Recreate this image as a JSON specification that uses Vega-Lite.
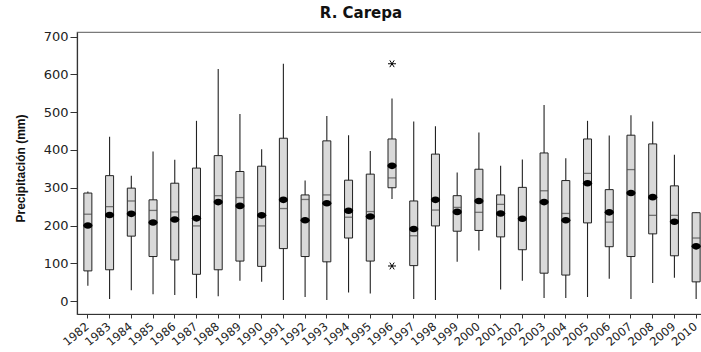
{
  "$schema": "https://vega.github.io/schema/vega-lite/v6.json",
  "autosize": {"type": "none"},
  "padding": {"left": 77, "top": 32, "right": 0, "bottom": 38},
  "width": 630,
  "height": 282,
  "background": "white",
  "title": {
    "text": "R. Carepa",
    "font": "DejaVu Sans",
    "fontSize": 15,
    "fontWeight": "bold",
    "color": "#111",
    "anchor": "middle",
    "dx": -31,
    "offset": 10
  },
  "config": {
    "view": {"stroke": "#7a7a7a", "strokeWidth": 1.2},
    "axis": {"grid": false, "labelColor": "#222", "titleColor": "#111", "domainColor": "#333", "tickColor": "#333"}
  },
  "datasets": {
    "stats": [
      {"year": "1982", "min": 41, "q1": 80, "median": 230, "mean": 200, "q3": 286, "max": 290},
      {"year": "1983", "min": 6, "q1": 83, "median": 250, "mean": 228, "q3": 332, "max": 435},
      {"year": "1984", "min": 29, "q1": 172, "median": 265, "mean": 231, "q3": 299, "max": 332},
      {"year": "1985", "min": 18, "q1": 118, "median": 240, "mean": 208, "q3": 268, "max": 396},
      {"year": "1986", "min": 16, "q1": 109, "median": 236, "mean": 216, "q3": 312, "max": 374},
      {"year": "1987", "min": 8, "q1": 71, "median": 199, "mean": 219, "q3": 352, "max": 477},
      {"year": "1988", "min": 13, "q1": 83, "median": 279, "mean": 262, "q3": 385, "max": 614},
      {"year": "1989", "min": 54, "q1": 106, "median": 274, "mean": 252, "q3": 343, "max": 495},
      {"year": "1990", "min": 51, "q1": 92, "median": 199, "mean": 227, "q3": 357, "max": 402},
      {"year": "1991", "min": 3, "q1": 139, "median": 245, "mean": 268, "q3": 431, "max": 628},
      {"year": "1992", "min": 11, "q1": 118, "median": 269, "mean": 214, "q3": 281, "max": 319},
      {"year": "1993", "min": 3, "q1": 104, "median": 281, "mean": 259, "q3": 424, "max": 490},
      {"year": "1994", "min": 23, "q1": 167, "median": 222, "mean": 239, "q3": 320, "max": 439},
      {"year": "1995", "min": 20, "q1": 106, "median": 237, "mean": 224, "q3": 336, "max": 397},
      {"year": "1996", "min": 270, "q1": 300, "median": 326, "mean": 358, "q3": 429, "max": 536},
      {"year": "1997", "min": 6, "q1": 94, "median": 173, "mean": 191, "q3": 265, "max": 475},
      {"year": "1998", "min": 3, "q1": 199, "median": 241, "mean": 268, "q3": 389, "max": 463},
      {"year": "1999", "min": 104, "q1": 185, "median": 248, "mean": 236, "q3": 279, "max": 340},
      {"year": "2000", "min": 134, "q1": 187, "median": 235, "mean": 265, "q3": 349, "max": 446},
      {"year": "2001", "min": 31, "q1": 170, "median": 256, "mean": 232, "q3": 281, "max": 358},
      {"year": "2002", "min": 54, "q1": 136, "median": 218, "mean": 218, "q3": 301, "max": 375},
      {"year": "2003", "min": 8, "q1": 74, "median": 292, "mean": 262, "q3": 392, "max": 519},
      {"year": "2004", "min": 8, "q1": 69, "median": 232, "mean": 214, "q3": 319, "max": 378},
      {"year": "2005", "min": 11, "q1": 207, "median": 338, "mean": 312, "q3": 429, "max": 477},
      {"year": "2006", "min": 59, "q1": 144, "median": 209, "mean": 235, "q3": 295, "max": 438},
      {"year": "2007", "min": 6, "q1": 118, "median": 348, "mean": 286, "q3": 439, "max": 492},
      {"year": "2008", "min": 48, "q1": 178, "median": 227, "mean": 275, "q3": 416, "max": 475},
      {"year": "2009", "min": 62, "q1": 120, "median": 227, "mean": 210, "q3": 305, "max": 387},
      {"year": "2010", "min": 6, "q1": 51, "median": 167, "mean": 145, "q3": 234, "max": 235}
    ],
    "outliers": [
      {"year": "1996", "value": 628},
      {"year": "1996", "value": 93}
    ]
  },
  "data": {"name": "stats"},
  "encoding": {
    "x": {
      "field": "year",
      "type": "ordinal",
      "scale": {"type": "band", "paddingInner": 0, "paddingOuter": 0},
      "axis": {
        "title": null,
        "labelAngle": -40,
        "labelAlign": "right",
        "labelBaseline": "middle",
        "labelFont": "DejaVu Sans",
        "labelFontSize": 11.5,
        "labelPadding": 7,
        "tickSize": 4,
        "domainWidth": 1.2
      }
    }
  },
  "layer": [
    {
      "mark": {"type": "rule", "color": "#222", "strokeWidth": 1.1},
      "encoding": {
        "y": {
          "field": "min",
          "type": "quantitative",
          "scale": {"domain": [-34, 712], "nice": false, "zero": false},
          "axis": {
            "title": "Precipitación (mm)",
            "titleFont": "Liberation Sans",
            "titleFontSize": 12,
            "titleFontWeight": "bold",
            "titleAngle": -90,
            "titleX": -57,
            "titleY": 136,
            "titleAlign": "center",
            "titleBaseline": "middle",
            "values": [0, 100, 200, 300, 400, 500, 600, 700],
            "labelFont": "DejaVu Sans",
            "labelFontSize": 13,
            "labelPadding": 2,
            "tickSize": 7,
            "domainWidth": 1.2
          }
        },
        "y2": {"field": "max"}
      }
    },
    {
      "mark": {"type": "bar", "size": 8, "fill": "#d9d9d9", "stroke": "#222", "strokeWidth": 1},
      "encoding": {
        "y": {"field": "q1", "type": "quantitative"},
        "y2": {"field": "q3"}
      }
    },
    {
      "mark": {"type": "tick", "size": 8, "thickness": 1.3, "color": "#444"},
      "encoding": {
        "y": {"field": "median", "type": "quantitative"}
      }
    },
    {
      "mark": {
        "type": "point",
        "shape": "M-1,0A1,0.72,0,1,0,1,0A1,0.72,0,1,0,-1,0Z",
        "size": 85,
        "filled": true,
        "color": "#000",
        "opacity": 1
      },
      "encoding": {
        "y": {"field": "mean", "type": "quantitative"}
      }
    },
    {
      "data": {"name": "outliers"},
      "mark": {
        "type": "point",
        "shape": "M-1,0L1,0M-0.55,-0.85L0.55,0.85M-0.55,0.85L0.55,-0.85",
        "size": 64,
        "filled": false,
        "stroke": "#000",
        "strokeWidth": 1,
        "opacity": 1
      },
      "encoding": {
        "y": {"field": "value", "type": "quantitative"}
      }
    }
  ]
}
